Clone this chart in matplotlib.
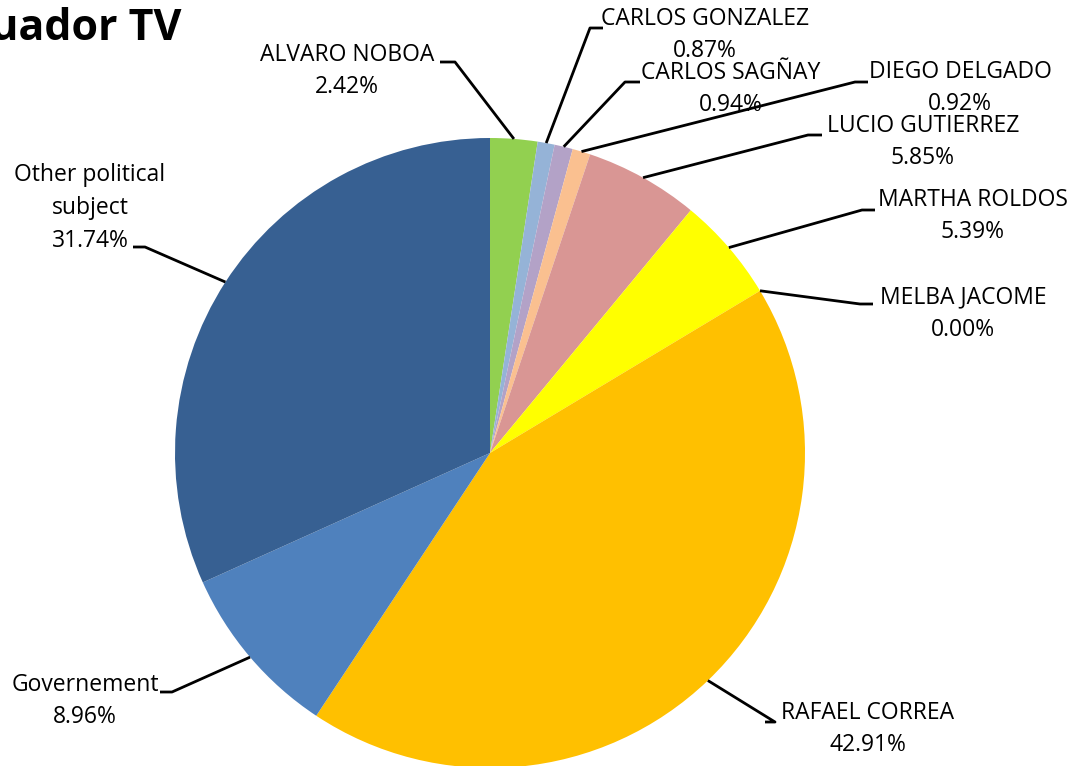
import matplotlib
matplotlib.use("Agg")
import matplotlib.pyplot as plt
import numpy as np

labels = ["ALVARO NOBOA", "CARLOS GONZALEZ", "CARLOS SAGÑAY", "DIEGO DELGADO",
          "LUCIO GUTIERREZ", "MARTHA ROLDOS", "MELBA JACOME", "RAFAEL CORREA",
          "Governement", "Other political\nsubject"]
values = [2.42, 0.87, 0.94, 0.92, 5.85, 5.39, 0.00, 42.91, 8.96, 31.74]
colors = ["#92D050", "#95B3D7", "#B3A2C7", "#FAC090", "#D99694", "#FFFF00",
          "#FF0000", "#FFC000", "#4F81BD", "#376092"]
title = "Ecuador TV"

W, H = 1078, 766
fig = plt.figure(figsize=(W / 100, H / 100), dpi=100)
ax = fig.add_axes([0, 0, 1, 1])

cx, cy, R = 490, H - 453, 315
wedges, _ = ax.pie(values, colors=colors, startangle=90, counterclock=False,
                   center=(cx, cy), radius=R, frame=True,
                   wedgeprops=dict(linewidth=0))
ax.set_xlim(0, W)
ax.set_ylim(0, H)
ax.set_aspect("equal")
ax.axis("off")

# label layout (pixel coords from top): text center, elbow start, elbow end
layout = [
    ((347, 71), (455, 62), (440, 62)),
    ((705, 35), (590, 28), (603, 28)),
    ((731, 89), (625, 82), (640, 82)),
    ((960, 88), (855, 82), (868, 82)),
    ((923, 142), (808, 135), (822, 135)),
    ((973, 216), (862, 210), (875, 210)),
    ((963, 314), (860, 304), (873, 304)),
    ((868, 729), (775, 722), (765, 722)),
    ((85, 701), (172, 692), (160, 692)),
    ((90, 208), (145, 247), (133, 247)),
]

fam = ["Open Sans", "DejaVu Sans"]
for w, lab, v, (tp, e1, e2) in zip(wedges, labels, values, layout):
    mid = np.deg2rad((w.theta1 + w.theta2) / 2)
    ax_, ay_ = cx + R * np.cos(mid), cy + R * np.sin(mid)
    ax.plot([ax_, e1[0], e2[0]], [ay_, H - e1[1], H - e2[1]], color="black",
            lw=2, solid_capstyle="butt", zorder=5)
    ax.text(tp[0], H - tp[1], f"{lab}\n{v:.2f}%", ha="center", va="center",
            fontsize=16.5, family=fam, linespacing=1.49, zorder=6)

ax.text(181, H - 28, title, ha="right", va="center", fontsize=31,
        fontweight="bold", family=fam)

fig.savefig("out.png", dpi=100)
